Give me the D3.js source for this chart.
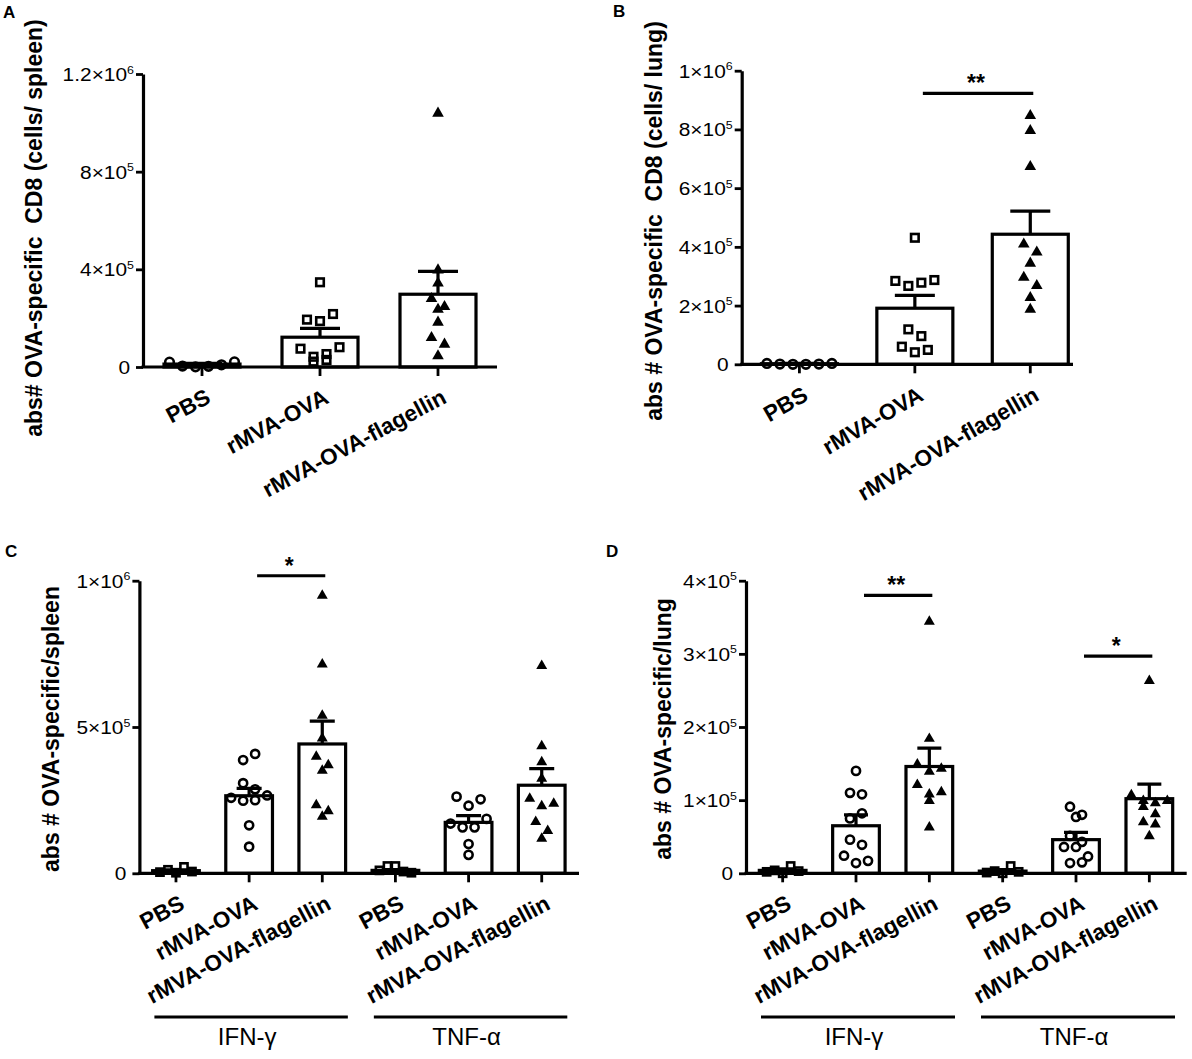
<!DOCTYPE html>
<html lang="en">
<head>
<meta charset="utf-8">
<title>OVA-specific CD8 T cells</title>
<script src="https://d3js.org/d3.v7.min.js"></script>
<style>
  body { margin: 0; background: #fff; }
  svg { display: block; font-family: Arial, "Liberation Sans", sans-serif; }
</style>
</head>
<body>
<script>
// ---- data ----
const groupNames = ["PBS", "rMVA-OVA", "rMVA-OVA-flagellin"];
const cytokines = ["IFN-γ", "TNF-α"];

// A: spleen, CD8
const aMean = [1.2e4, 1.22e5, 2.98e5];
const aSem = [3e3, 3.6e4, 9.4e4];
const aPBS = [2.0e4, 4e3, 1e3, 3e3, 9e3, 2.1e4];
const aOVA = [3.47e5, 1.94e5, 1.88e5, 2.17e5, 7.5e4, 4.2e4, 2.2e4, 2.9e4, 5.3e4, 8.1e4];
const aFLA = [1.039e6, 3.97e5, 3.43e5, 2.80e5, 2.36e5, 2.47e5, 1.83e5, 1.20e5, 9.3e4, 4.5e4];
const aTicks = [0, 4e5, 8e5, 1.2e6];
const aTickText = ["0", "4×10^5", "8×10^5", "1.2×10^6"];

// B: lung, CD8
const bMean = [2e3, 1.91e5, 4.43e5];
const bSem = [1e3, 4.4e4, 7.9e4];
const bPBS = [3e3, 1e3, 0, 0, 1e3, 3e3];
const bOVA = [4.31e5, 2.84e5, 2.67e5, 2.78e5, 2.87e5, 1.19e5, 9.6e4, 6.0e4, 4.1e4, 4.9e4];
const bFLA = [8.47e5, 7.96e5, 6.73e5, 4.09e5, 3.82e5, 3.44e5, 2.96e5, 2.68e5, 2.27e5, 1.87e5];
const bTicks = [0, 2e5, 4e5, 6e5, 8e5, 1e6];
const bTickText = ["0", "2×10^5", "4×10^5", "6×10^5", "8×10^5", "1×10^6"];

// C: spleen, cytokines
const cIfnMean = [9e3, 2.65e5, 4.42e5];
const cIfnSem = [3e3, 2.5e4, 7.8e4];
const cTnfMean = [1e4, 1.74e5, 3.01e5];
const cTnfSem = [3e3, 2.3e4, 5.7e4];
const cIfnPBS = [4e3, 1.2e4, 2e3, 2.2e4, 6e3];
const cIfnOVA = [3.87e5, 4.08e5, 3.08e5, 2.87e5, 2.58e5, 2.48e5, 2.50e5, 2.66e5, 1.64e5, 9.1e4];
const cIfnFLA = [9.49e5, 7.14e5, 5.39e5, 4.61e5, 3.99e5, 3.70e5, 3.51e5, 2.33e5, 2.13e5, 1.94e5];
const cTnfPBS = [1e4, 2.5e4, 2.5e4, 6e3, 2e3];
const cTnfOVA = [2.62e5, 2.31e5, 2.53e5, 1.70e5, 1.57e5, 1.57e5, 1.86e5, 1.0e5, 6.3e4];
const cTnfFLA = [7.09e5, 4.35e5, 3.80e5, 3.24e5, 2.55e5, 2.30e5, 2.38e5, 1.76e5, 1.45e5, 1.19e5];
const cTicks = [0, 5e5, 1e6];
const cTickText = ["0", "5×10^5", "1×10^6"];

// D: lung, cytokines
const dIfnMean = [4e3, 6.5e4, 1.46e5];
const dIfnSem = [2e3, 1.5e4, 2.5e4];
const dTnfMean = [3e3, 4.6e4, 1.02e5];
const dTnfSem = [2e3, 1.0e4, 2.0e4];
const dIfnPBS = [2e3, 4e3, 0, 1.0e4, 3e3];
const dIfnOVA = [1.40e5, 1.10e5, 1.08e5, 7.5e4, 8.2e4, 4.6e4, 3.9e4, 2.4e4, 1.4e4, 1.7e4];
const dIfnFLA = [3.44e5, 1.84e5, 1.49e5, 1.39e5, 1.43e5, 1.21e5, 1.08e5, 1.11e5, 9.9e4, 6.3e4];
const dTnfPBS = [1e3, 3e3, 0, 1.0e4, 2e3];
const dTnfOVA = [9.1e4, 7.7e4, 8.0e4, 5.1e4, 4.3e4, 3.6e4, 3.6e4, 2.3e4, 1.4e4, 1.5e4];
const dTnfFLA = [2.63e5, 1.07e5, 9.9e4, 9.1e4, 9.6e4, 9.9e4, 8.1e4, 7.0e4, 6.7e4, 5.1e4];
const dTicks = [0, 1e5, 2e5, 3e5, 4e5];
const dTickText = ["0", "1×10^5", "2×10^5", "3×10^5", "4×10^5"];

// significance bars: [from group, to group, level, text]
const bSig = [[1, 2, 9.23e5, "**"]];
const cSig = [[1, 2, 1.017e6, "*"]];
const dSig = [[1, 2, 3.80e5, "**"], [4, 5, 2.97e5, "*"]];

// ---- chart ----
const svg = d3.select("body").append("svg")
    .attr("width", 1192)
    .attr("height", 1059);

const panels = [
  {letter: "A", lx: 3, ly: 18,
   title: "abs# OVA-specific  CD8 (cells/ spleen)", tx: 42, ty: 228,
   means: aMean, sems: aSem, points: [aPBS, aOVA, aFLA],
   shapes: ["circle", "square", "triangle"], spacing: [13, 13, 13],
   labels: groupNames, ticks: aTicks, tickText: aTickText, yMax: 1.2e6,
   axisX: 143, y0: 367, yTop: 74, xEnd: 497, axisEnd: 497,
   barW: 76, cap: 40, angle: 28, sig: [], mk: 1.08},
  {letter: "B", lx: 613, ly: 17,
   title: "abs # OVA-specific  CD8 (cells/ lung)", tx: 662, ty: 221,
   means: bMean, sems: bSem, points: [bPBS, bOVA, bFLA],
   shapes: ["circle", "square", "triangle"], spacing: [13, 13, 13],
   labels: groupNames, ticks: bTicks, tickText: bTickText, yMax: 1e6,
   axisX: 741.7, y0: 364.3, yTop: 70.7, xEnd: 1088, axisEnd: 1073,
   barW: 76, cap: 40, angle: 30, sig: bSig, mk: 1.08},
  {letter: "C", lx: 5, ly: 557,
   title: "abs # OVA-specific/spleen", tx: 59, ty: 729,
   means: cIfnMean.concat(cTnfMean), sems: cIfnSem.concat(cTnfSem),
   points: [cIfnPBS, cIfnOVA, cIfnFLA, cTnfPBS, cTnfOVA, cTnfFLA],
   shapes: ["square", "circle", "triangle", "square", "circle", "triangle"],
   spacing: [8, 12, 12, 8, 12, 12],
   labels: groupNames.concat(groupNames), ticks: cTicks, tickText: cTickText, yMax: 1e6,
   axisX: 139.4, y0: 873.3, yTop: 580.7, xEnd: 578.3, axisEnd: 579,
   barW: 46.7, cap: 25, angle: 28, sig: cSig, mk: 1.02, cyto: true},
  {letter: "D", lx: 606, ly: 557,
   title: "abs # OVA-specific/lung", tx: 671, ty: 729,
   means: dIfnMean.concat(dTnfMean), sems: dIfnSem.concat(dTnfSem),
   points: [dIfnPBS, dIfnOVA, dIfnFLA, dTnfPBS, dTnfOVA, dTnfFLA],
   shapes: ["square", "circle", "triangle", "square", "circle", "triangle"],
   spacing: [8, 12, 12, 8, 12, 12],
   labels: groupNames.concat(groupNames), ticks: dTicks, tickText: dTickText, yMax: 4e5,
   axisX: 746, y0: 873.3, yTop: 580.7, xEnd: 1186, axisEnd: 1186.7,
   barW: 46.7, cap: 24, angle: 28, sig: dSig, mk: 1.02, cyto: true}
];

// group points with close values into rows and center each row
function swarm(vals, y, spacing, tol) {
  const order = vals.map((v, i) => i).sort((a, b) => vals[b] - vals[a]);
  const rows = [];
  order.forEach(i => {
    const py = y(vals[i]);
    const last = rows[rows.length - 1];
    if (last && Math.abs(py - last.y0) <= tol) last.items.push(i);
    else rows.push({y0: py, items: [i]});
  });
  const off = new Array(vals.length);
  rows.forEach(r => {
    r.items.sort((a, b) => a - b);
    r.items.forEach((i, k) => off[i] = (k - (r.items.length - 1) / 2) * spacing);
  });
  return off;
}

function drawPanel(p) {
  const g = svg.append("g");
  const n = p.means.length;
  const x = d3.scaleBand().domain(d3.range(n)).range([p.axisX, p.xEnd]);
  const y = d3.scaleLinear().domain([0, p.yMax]).range([p.y0, p.yTop]);
  const cx = i => x(i) + x.bandwidth() / 2;

  // panel letter
  svg.append("text").attr("x", p.lx).attr("y", p.ly)
      .attr("font-size", 17).attr("font-weight", "bold").text(p.letter);

  // y title
  svg.append("text")
      .attr("transform", `translate(${p.tx},${p.ty}) rotate(-90)`)
      .attr("text-anchor", "middle")
      .attr("font-size", 23).attr("font-weight", "bold")
      .style("white-space", "pre")
      .text(p.title);

  // bars
  g.selectAll("rect.bar").data(p.means).join("rect")
      .attr("class", "bar")
      .attr("x", (d, i) => cx(i) - p.barW / 2)
      .attr("y", d => y(d))
      .attr("width", p.barW)
      .attr("height", d => y(0) - y(d))
      .attr("fill", "#fff").attr("stroke", "#000").attr("stroke-width", 3.2);

  // error bars (upper SEM)
  g.selectAll("path.err").data(p.means).join("path")
      .attr("class", "err")
      .attr("d", (d, i) => {
        const top = y(d + p.sems[i]);
        return `M${cx(i)},${y(d)}V${top}M${cx(i) - p.cap / 2},${top}H${cx(i) + p.cap / 2}`;
      })
      .attr("fill", "none").attr("stroke", "#000").attr("stroke-width", 3.2);

  // x axis
  const xg = g.append("g").attr("transform", `translate(0,${p.y0})`)
      .call(d3.axisBottom(x).tickSize(9).tickSizeOuter(0).tickFormat(""));
  xg.select(".domain").attr("d", `M${p.axisX - 1.5},0H${p.axisEnd}`).attr("stroke-width", 3.2);
  xg.selectAll(".tick line").attr("stroke-width", 2.8);

  // y axis
  const yg = g.append("g").attr("transform", `translate(${p.axisX},0)`)
      .call(d3.axisLeft(y).tickValues(p.ticks).tickSize(7).tickSizeOuter(0).tickFormat(""));
  yg.select(".domain").attr("stroke-width", 3.2);
  yg.selectAll(".tick line").attr("stroke-width", 2.8);
  yg.selectAll(".tick").each(function(d, i) {
    const parts = p.tickText[i].split("^");
    const t = d3.select(this).append("text")
        .attr("fill", "#000")
        .attr("text-anchor", "end")
        .attr("font-size", 18.5)
        .attr("transform", `translate(${parts.length > 1 ? -9 : -13},6.5) scale(1.13,1)`);
    t.append("tspan").text(parts[0]);
    if (parts.length > 1) t.append("tspan").attr("font-size", 11).attr("dy", -7.5).text(parts[1]);
  });

  // x labels
  g.selectAll("text.xl").data(p.labels).join("text")
      .attr("class", "xl")
      .attr("transform", (d, i) => `translate(${cx(i) + 10},${p.y0 + 35}) rotate(${-p.angle})`)
      .attr("text-anchor", "end")
      .attr("font-size", 22.5).attr("font-weight", "bold")
      .text(d => d);

  // points
  p.points.forEach((vals, gi) => {
    const off = swarm(vals, y, p.spacing[gi], 10);
    const shape = p.shapes[gi];
    const pg = g.append("g");
    vals.forEach((v, k) => {
      const px = cx(gi) + off[k], py = y(v);
      if (shape === "circle") {
        pg.append("circle").attr("cx", px).attr("cy", py).attr("r", 4 * p.mk)
            .attr("fill", "none").attr("stroke", "#000").attr("stroke-width", 2.6);
      } else if (shape === "square") {
        const s = 7 * p.mk;
        pg.append("rect").attr("x", px - s / 2).attr("y", py - s / 2).attr("width", s).attr("height", s)
            .attr("fill", "none").attr("stroke", "#000").attr("stroke-width", 2.6);
      } else {
        pg.append("path").attr("transform", `translate(${px},${py})`)
            .attr("d", d3.symbol(d3.symbolTriangle, 50 * p.mk * p.mk)())
            .attr("fill", "#000");
      }
    });
  });

  // significance
  p.sig.forEach(s => {
    const x1 = cx(s[0]) + 8, x2 = cx(s[1]) + 3, sy = y(s[2]);
    g.append("line").attr("x1", x1).attr("x2", x2).attr("y1", sy).attr("y2", sy)
        .attr("stroke", "#000").attr("stroke-width", 3.2);
    g.append("text").attr("x", (x1 + x2) / 2 - 2).attr("y", sy - 2)
        .attr("text-anchor", "middle").attr("font-size", 23).attr("font-weight", "bold")
        .text(s[3]);
  });

  // cytokine brackets
  if (p.cyto) {
    cytokines.forEach((c, k) => {
      const xa = x(3 * k) + 15, xb = x(3 * k + 2) + x.bandwidth() - 11;
      const ly = 1017;
      g.append("line").attr("x1", xa).attr("x2", xb).attr("y1", ly).attr("y2", ly)
          .attr("stroke", "#000").attr("stroke-width", 3.2);
      g.append("text").attr("x", (xa + xb) / 2 - 4).attr("y", 1045)
          .attr("text-anchor", "middle").attr("font-size", 24).text(c);
    });
  }
}

panels.forEach(drawPanel);
</script>
</body>
</html>
